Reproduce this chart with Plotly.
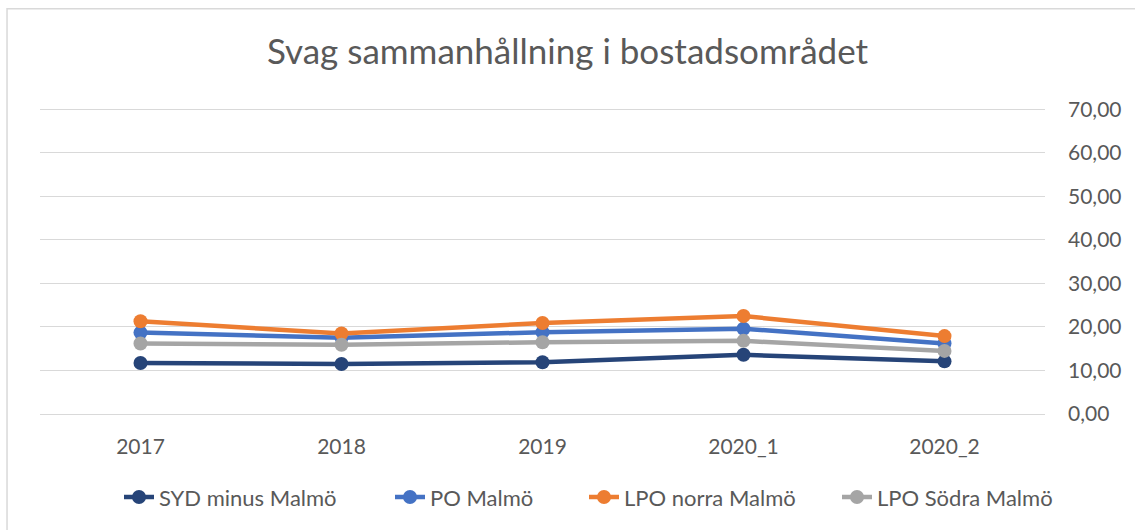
import plotly.graph_objects as go

categories = ["2017", "2018", "2019", "2020_1", "2020_2"]
syd_minus_malmo = [11.7, 11.5, 11.9, 13.6, 12.1]
po_malmo = [18.7, 17.5, 18.8, 19.6, 16.2]
lpo_norra = [21.3, 18.5, 20.9, 22.5, 17.9]
lpo_sodra = [16.2, 15.9, 16.5, 16.8, 14.5]

series = [
    ("SYD minus Malmö", syd_minus_malmo, "#264478"),
    ("PO Malmö", po_malmo, "#4472C4"),
    ("LPO norra Malmö", lpo_norra, "#ED7D31"),
    ("LPO Södra Malmö", lpo_sodra, "#A5A5A5"),
]
# legend text start pixel positions in the reference
legend_text_px = [160, 431, 625, 878]

fig = go.Figure()
legend_layout = {}
for i, (name, vals, col) in enumerate(series):
    lname = "legend" if i == 0 else f"legend{i + 1}"
    fig.add_trace(go.Scatter(
        x=categories, y=vals, name=name, mode="lines+markers",
        line=dict(color=col, width=4.5),
        marker=dict(color=col, size=14),
        legend=lname,
    ))
    legend_layout[lname] = dict(
        orientation="h", x=(legend_text_px[i] - 40 - 41) / 1005, xanchor="left",
        y=-0.272, yanchor="middle", bgcolor="rgba(0,0,0,0)",
        font=dict(size=22, color="#595959"),
    )

fig.update_layout(
    width=1135, height=530,
    paper_bgcolor="white", plot_bgcolor="white",
    separators=", ",
    font=dict(family="Lato, Open Sans, sans-serif", color="#595959", size=21),
    title=dict(text="Svag sammanhållning i bostadsområdet", x=0.5, xanchor="center",
               y=1 - 52 / 530, yanchor="middle",
               font=dict(size=35, color="#595959")),
    margin=dict(l=40, r=90, t=108, b=116),
    showlegend=True,
    xaxis=dict(type="category", showgrid=False, showline=True, linecolor="#D9D9D9",
               linewidth=1, ticks="", tickfont=dict(size=21, color="#595959"),
               ticklabelstandoff=14, range=[-0.5, 4.5]),
    yaxis=dict(side="right", range=[0, 70.3], tick0=0, dtick=10, tickformat=".2f",
               showgrid=True, gridcolor="#D9D9D9", gridwidth=1, zeroline=False,
               showline=False, ticks="", ticklabelstandoff=22,
               tickfont=dict(size=21, color="#595959")),
    shapes=[dict(type="rect", xref="paper", yref="paper",
                 x0=-0.0328, x1=1.2, y0=-0.6, y1=1.3246,
                 line=dict(color="#D9D9D9", width=1.5), fillcolor="rgba(0,0,0,0)",
                 layer="below")],
    **legend_layout,
)

fig.write_html("out.html", config={"displayModeBar": False},
               post_script="document.body.style.margin='0';")
